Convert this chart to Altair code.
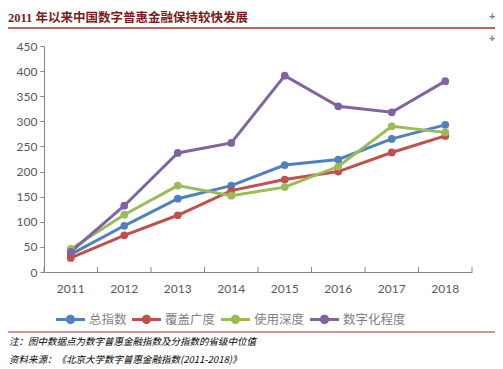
import altair as alt
import pandas as pd

years = ["2011", "2012", "2013", "2014", "2015", "2016", "2017", "2018"]
series_names = ["总指数", "覆盖广度", "使用深度", "数字化程度"]
total_index = [35, 92, 146, 172, 213, 224, 265, 293]
coverage = [28, 73, 113, 162, 184, 200, 238, 271]
usage_depth = [46, 114, 172, 152, 169, 210, 290, 278]
digitization = [40, 132, 237, 257, 391, 330, 318, 380]
colors = ["#4f81bd", "#c0504d", "#9bbb59", "#8064a2"]
y_ticks = [0, 50, 100, 150, 200, 250, 300, 350, 400, 450]

title_text = "2011 年以来中国数字普惠金融保持较快发展"
note_text = "注：图中数据点为数字普惠金融指数及分指数的省级中位值"
source_text = "资料来源：《北京大学数字普惠金融指数(2011-2018)》"

rows = []
for name, vals in zip(series_names, [total_index, coverage, usage_depth, digitization]):
    for y, v in zip(years, vals):
        rows.append({"年份": y, "指数": name, "值": v})
df = pd.DataFrame(rows)
year_df = pd.DataFrame({"年份": years})
last_df = pd.DataFrame({"年份": years[-1:]})

W, H = 428, 226
legend_symbol = ("M-1,-0.1 L1,-0.1 L1,0.1 L-1,0.1 Z "
                 "M0.32,0 A0.32,0.32 0 1,1 -0.32,0 A0.32,0.32 0 1,1 0.32,0 Z")

xscale = alt.Scale(type="band", domain=years, paddingInner=0, paddingOuter=0)
x_enc = alt.X("年份:O", scale=xscale, sort=years,
              axis=alt.Axis(title=None, ticks=False, labelAngle=0, labelPadding=11,
                            labelFont="Lato", labelFontSize=12, labelColor="#595959",
                            domainColor="#868686", grid=False))
y_enc = alt.Y("值:Q", scale=alt.Scale(domain=[0, 450]),
              axis=alt.Axis(title=None, values=y_ticks, tickSize=4,
                            tickColor="#868686", domainColor="#868686", grid=False,
                            labelOverlap=False, labelFont="Lato", labelFontSize=12,
                            labelColor="#595959", labelPadding=3))
color = alt.Color(
    "指数:N",
    scale=alt.Scale(domain=series_names, range=colors),
    sort=series_names,
    legend=alt.Legend(
        orient="none", direction="horizontal", legendX=12, legendY=259,
        title=None, symbolType=legend_symbol, symbolSize=841,
        symbolStrokeWidth=0, labelFont="Noto Sans CJK SC", labelFontSize=12.5,
        labelColor="#7f7f7f", labelOffset=4, columnPadding=5,
    ),
)

base = alt.Chart(df)
lines = base.mark_line(strokeWidth=3).encode(x=x_enc, y=y_enc, color=color)
points = base.mark_point(filled=True, size=60, opacity=1).encode(x=x_enc, y=y_enc, color=color)

# inward x-axis ticks at band boundaries
ticks_left = alt.Chart(year_df).mark_rule(color="#868686", strokeWidth=1).encode(
    x=alt.X("年份:O", scale=xscale, sort=years, bandPosition=0),
    y=alt.value(H - 5), y2=alt.value(H))
ticks_right = alt.Chart(last_df).mark_rule(color="#868686", strokeWidth=1).encode(
    x=alt.X("年份:O", scale=xscale, sort=years, bandPosition=1),
    y=alt.value(H - 5), y2=alt.value(H))

deco = pd.DataFrame({"k": [0]})
def txt(text, x, y, **kw):
    return alt.Chart(deco).mark_text(text=text, align="left", **kw).encode(
        x=alt.value(x), y=alt.value(y))

title = txt(title_text, -36, -24, baseline="alphabetic", fontSize=12.5, fontWeight="bold",
            font="Liberation Serif, Noto Sans CJK SC", color="#7b1c1c")
top_rule = alt.Chart(deco).mark_rule(color="#a5312a", strokeWidth=1.5).encode(
    x=alt.value(-36), x2=alt.value(453), y=alt.value(-18))
bot_rule = alt.Chart(deco).mark_rule(color="#a5312a", strokeWidth=1.2).encode(
    x=alt.value(-36), x2=alt.value(451), y=alt.value(286))
note = txt(note_text, -35, 299, baseline="alphabetic", fontSize=9.5, fontStyle="italic",
           font="Noto Sans CJK SC", color="#000000")
source = txt(source_text, -35, 317, baseline="alphabetic", fontSize=9.5, fontStyle="italic",
             font="Noto Sans CJK SC", color="#000000")
plus1 = txt("+", 445, -29, baseline="middle", fontSize=11, fontWeight="bold", color="#808080")
plus2 = txt("+", 445, -7, baseline="middle", fontSize=11, fontWeight="bold", color="#808080")

chart = alt.layer(lines, points, ticks_left, ticks_right, title, top_rule, bot_rule,
                  note, source, plus1, plus2).properties(
    width=W, height=H,
    autosize=alt.AutoSizeParams(type="none"),
    padding={"left": 36, "top": 38, "right": 23, "bottom": 96},
).configure_view(stroke=None)

chart.save("out.html", embed_options={"renderer": "svg", "actions": False})
